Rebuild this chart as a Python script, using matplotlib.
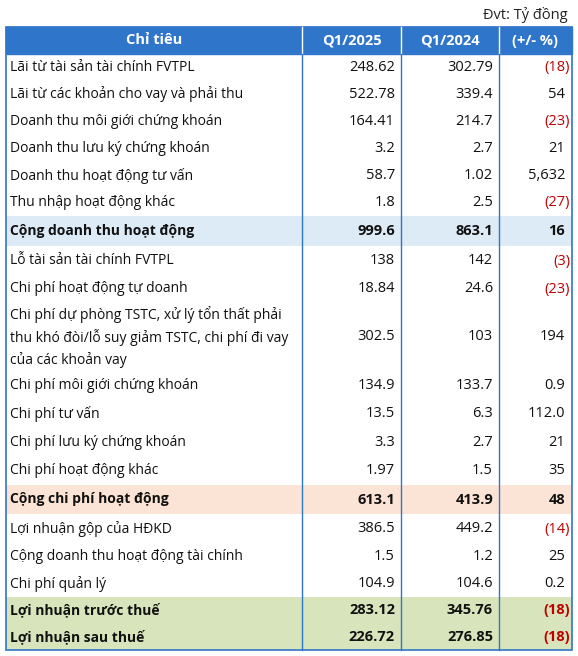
import matplotlib.pyplot as plt
from matplotlib.patches import Rectangle

plt.rcParams["font.family"] = ["Open Sans", "DejaVu Sans"]

headers = ["Chỉ tiêu", "Q1/2025", "Q1/2024", "(+/- %)"]
labels = [
    "Lãi từ tài sản tài chính FVTPL",
    "Lãi từ các khoản cho vay và phải thu",
    "Doanh thu môi giới chứng khoán",
    "Doanh thu lưu ký chứng khoán",
    "Doanh thu hoạt động tư vấn",
    "Thu nhập hoạt động khác",
    "Cộng doanh thu hoạt động",
    "Lỗ tài sản tài chính FVTPL",
    "Chi phí hoạt động tự doanh",
    "Chi phí dự phòng TSTC, xử lý tổn thất phải\nthu khó đòi/lỗ suy giảm TSTC, chi phí đi vay\ncủa các khoản vay",
    "Chi phí môi giới chứng khoán",
    "Chi phí tư vấn",
    "Chi phí lưu ký chứng khoán",
    "Chi phí hoạt động khác",
    "Cộng chi phí hoạt động",
    "Lợi nhuận gộp của HĐKD",
    "Cộng doanh thu hoạt động tài chính",
    "Chi phí quản lý",
    "Lợi nhuận trước thuế",
    "Lợi nhuận sau thuế",
]
q1_2025 = ["248.62", "522.78", "164.41", "3.2", "58.7", "1.8", "999.6", "138", "18.84",
           "302.5", "134.9", "13.5", "3.3", "1.97", "613.1", "386.5", "1.5", "104.9",
           "283.12", "226.72"]
q1_2024 = ["302.79", "339.4", "214.7", "2.7", "1.02", "2.5", "863.1", "142", "24.6",
           "103", "133.7", "6.3", "2.7", "1.5", "413.9", "449.2", "1.2", "104.6",
           "345.76", "276.85"]
change = ["(18)", "54", "(23)", "21", "5,632", "(27)", "16", "(3)", "(23)",
          "194", "0.9", "112.0", "21", "35", "48", "(14)", "25", "0.2",
          "(18)", "(18)"]

row_h = [27, 27, 27, 27, 27, 27, 30, 30, 26, 70, 27, 29, 29, 28, 29, 30, 26, 27, 26.5, 26.5]
bands = {6: "#DDEBF7", 14: "#FBE4D5", 18: "#D8E4BC", 19: "#D8E4BC"}
bold_rows = {6, 14, 18, 19}

W, H = 578, 656
col_x = [6, 302, 401, 499, 572]
top = 27
header_h = 27
blue = "#2F75C9"
red = "#C00000"

fig = plt.figure(figsize=(W / 100, H / 100), dpi=100)
ax = fig.add_axes([0, 0, 1, 1])
ax.set_xlim(0, W)
ax.set_ylim(H, 0)
ax.axis("off")

ax.text(568, 15, "Đvt: Tỷ đồng", ha="right", va="center", fontsize=10.5, color="#222222")

ax.add_patch(Rectangle((col_x[0], top), col_x[-1] - col_x[0], header_h, color=blue))
for i, h in enumerate(headers):
    cx = (col_x[i] + col_x[i + 1]) / 2
    ax.text(cx, top + header_h / 2, h, ha="center", va="center", color="white",
            fontsize=10.5, fontweight="bold")

y = top + header_h
for i, lab in enumerate(labels):
    h = row_h[i]
    if i in bands:
        ax.add_patch(Rectangle((col_x[0], y), col_x[-1] - col_x[0], h, color=bands[i], lw=0))
    cy = y + h / 2
    fw = "bold" if i in bold_rows else "normal"
    ax.text(col_x[0] + 4, cy, lab, ha="left", va="center", fontsize=10, fontweight=fw,
            color="#111111", linespacing=1.45)
    ax.text(col_x[2] - 6, cy, q1_2025[i], ha="right", va="center", fontsize=10.5, fontweight=fw, color="#111111")
    ax.text(col_x[3] - 6, cy, q1_2024[i], ha="right", va="center", fontsize=10.5, fontweight=fw, color="#111111")
    c = change[i]
    neg = c.startswith("(")
    ax.text(col_x[4] - 2 if neg else col_x[4] - 7, cy, c, ha="right", va="center",
            fontsize=10.5, fontweight=fw, color=red if neg else "#111111")
    y += h
bottom = y

for x in col_x[1:-1]:
    ax.plot([x, x], [top, top + header_h], color="white", lw=1)
    ax.plot([x, x], [top + header_h, bottom], color=blue, lw=1)
ax.add_patch(Rectangle((col_x[0], top), col_x[-1] - col_x[0], bottom - top,
                       fill=False, edgecolor=blue, lw=1.2))

fig.savefig("out.png", dpi=100)
